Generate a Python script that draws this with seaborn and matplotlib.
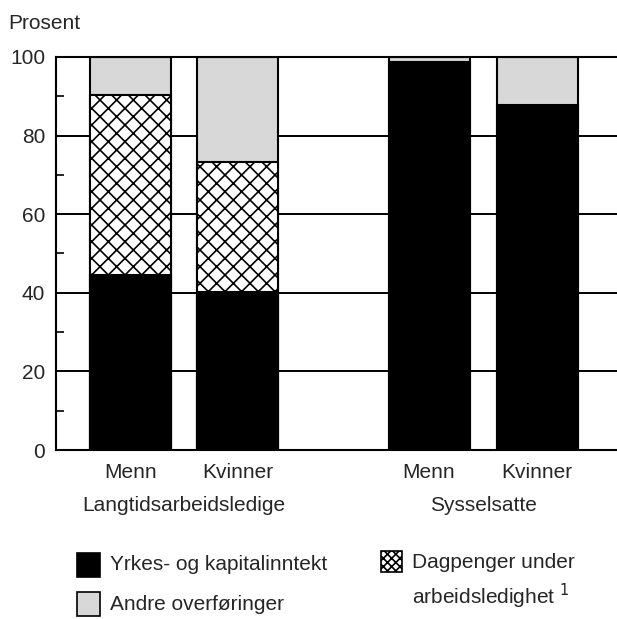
import numpy as np
import pandas as pd
import matplotlib.pyplot as plt
import matplotlib.patches as mpatches
import seaborn as sns

# Data (percent)
groups = ['Langtidsarbeidsledige', 'Langtidsarbeidsledige', 'Sysselsatte', 'Sysselsatte']
sexes = ['Menn', 'Kvinner', 'Menn', 'Kvinner']
yrkes = [44.5, 40.2, 98.8, 87.8]
dagpenger = [45.7, 33.2, 0.0, 0.0]
andre = [9.8, 26.6, 1.2, 12.2]
xpos = [0.0, 1.0, 2.79, 3.8]

sns.set_style('white')
plt.rcParams['font.family'] = ['Liberation Sans Narrow', 'Liberation Sans', 'DejaVu Sans']
plt.rcParams['hatch.linewidth'] = 1.2

df = pd.DataFrame({'x': xpos, 'sex': sexes, 'group': groups,
                   'yrkes': yrkes, 'dagpenger': dagpenger, 'andre': andre})
df['cum_dag'] = df['yrkes'] + df['dagpenger']
df['cum_all'] = df['cum_dag'] + df['andre']

fig = plt.figure(figsize=(6.17, 6.19), dpi=100)
ax = fig.add_axes([0.091, 0.273, 0.909, 0.635])

# horizontal grid lines behind bars
for y in [20, 40, 60, 80]:
    ax.axhline(y, color='black', lw=1.4, zorder=0)

width = 0.757
grey = '#d8d8d8'
fs = 15
# overlay: total (grey), then cumulative dagpenger (hatched), then yrkes (black)
sns.barplot(data=df, x='x', y='cum_all', native_scale=True, width=width,
            color=grey, edgecolor='black', linewidth=1.5, errorbar=None,
            saturation=1, ax=ax, zorder=2)
sns.barplot(data=df[df['dagpenger'] > 0], x='x', y='cum_dag', native_scale=True,
            width=width, color='white', edgecolor='black', linewidth=1.5,
            hatch='xx', errorbar=None, saturation=1, ax=ax, zorder=3)
sns.barplot(data=df, x='x', y='yrkes', native_scale=True, width=width,
            color='black', edgecolor='black', linewidth=1.5, errorbar=None,
            saturation=1, ax=ax, zorder=4)

ax.set_xlim(-0.696, 4.547)
ax.set_ylim(0, 100)
ax.set_xlabel('')
ax.set_ylabel('')
ax.set_xticks(xpos)
ax.set_xticklabels(sexes, fontsize=fs)
ax.set_yticks([0, 20, 40, 60, 80, 100])
ax.set_yticklabels(['0', '20', '40', '60', '80', '100'], fontsize=fs)
ax.set_yticks([10, 30, 50, 70, 90], minor=True)
ax.tick_params(axis='x', length=0, pad=9)
ax.tick_params(axis='y', which='major', length=0, pad=8)
ax.tick_params(axis='y', which='minor', direction='in', length=6, width=1.4, left=True)

for side in ['left', 'top', 'bottom']:
    ax.spines[side].set_visible(True)
    ax.spines[side].set_linewidth(1.5)
    ax.spines[side].set_color('black')
ax.spines['right'].set_visible(False)

# group labels
ax.text(0.5, -0.14, 'Langtidsarbeidsledige', transform=ax.get_xaxis_transform(),
        ha='center', va='center', fontsize=fs)
ax.text(3.295, -0.14, 'Sysselsatte', transform=ax.get_xaxis_transform(),
        ha='center', va='center', fontsize=fs)

fig.text(0.013, 0.962, 'Prosent', fontsize=fs, ha='left', va='center')

# legend, laid out by hand in figure pixels
W, H = 617, 619
def fig_box(x0, y0, x1, y1, **kw):
    fig.patches.append(mpatches.Rectangle((x0 / W, 1 - y1 / H), (x1 - x0) / W, (y1 - y0) / H,
                                          transform=fig.transFigure, lw=1.2,
                                          edgecolor='black', **kw))

fig_box(77, 553, 100, 577, facecolor='black')
fig.text(110 / W, 1 - 565 / H, 'Yrkes- og kapitalinntekt', fontsize=fs, va='center')
fig_box(77, 592, 100, 616, facecolor=grey)
fig.text(110 / W, 1 - 604 / H, 'Andre overføringer', fontsize=fs, va='center')
fig_box(381, 551, 402, 572, facecolor='white', hatch='xxxx')
fig.text(412 / W, 1 - 563 / H, 'Dagpenger under', fontsize=fs, va='center')
fig.text(412 / W, 1 - 596 / H, 'arbeidsledighet $^1$', fontsize=fs, va='center')

fig.savefig('out.png', dpi=100)
